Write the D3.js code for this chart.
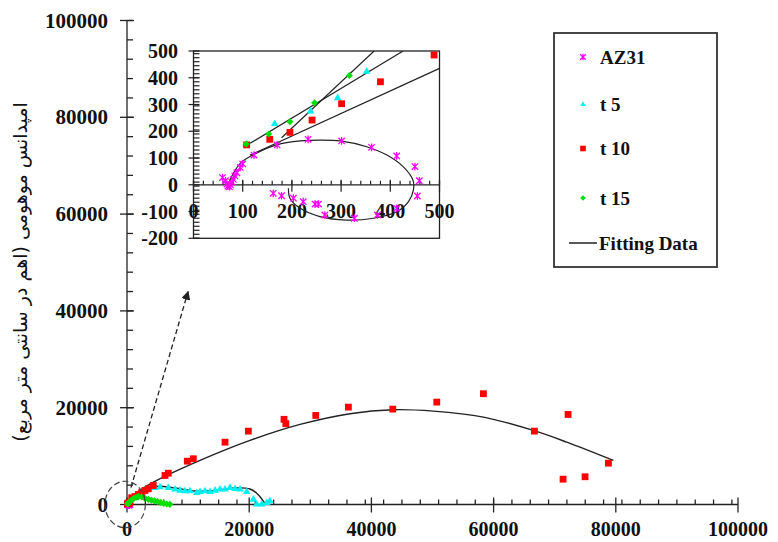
<!DOCTYPE html>
<html lang="en">
<head>
<meta charset="utf-8">
<script src="https://cdn.jsdelivr.net/npm/d3@7"></script>
<style>
body { margin: 0; background: #fff; }
text { font-family: "Liberation Serif", "Times New Roman", serif; font-weight: bold; fill: #111; }
</style>
</head>
<body>
<script>
// values, [Z' , -Z''] in ohm.cm2
const az31 = [[59,27],[65,15],[68,3],[70,-5],[73,-7],[75,0],[78,10],[81,20],[84,33],[88,45],[95,65],[100,78],
  [123,111],[170,149],[233,170],[301,164],[362,140],[413,108],[450,68],[459,15],[455,-42],[413,-88],
  [374,-113],[327,-125],[267,-113],[254,-72],[247,-72],[223,-63],[203,-50],[179,-41],[162,-32]];

const t5 = [[108,152],[165,230],[238,277],[293,327],[352,426],
  [4580,3580],[5400,3720],[6760,3580],[7860,3250],[8680,3030],[9490,2900],[10310,2900],[11410,2540],
  [11950,2750],[12770,2900],[13590,2750],[14410,3030],[15220,3250],[16040,3250],[16860,3580],[17680,3370],
  [18500,3250],[19590,2750],[20680,1180],[21230,150],[22050,150],[22870,480],[23400,830]];

const t10 = [[108,149],[155,170],[196,196],[241,242],[301,303],[380,385],[489,485],
  [770,1390],[1310,1650],[1850,2070],[2400,2480],[2950,2900],[3490,3250],[4300,3930],[6220,6000],[6760,6470],
  [9870,8950],[10850,9450],[16040,12880],[19860,15160],[25700,17600],[26000,16700],[30890,18400],[36230,20120],
  [43500,19710],[50700,21160],[58330,22890],[66680,15160],[72190,18610],[78790,8540],[71370,5230],[74970,5730]];

const t15 = [[107,152],[153,190],[196,236],[246,307],[317,408],
  [700,900],[1100,1250],[1500,1500],[1900,1650],[2400,1550],[2950,1250],[3500,1050],[4000,900],[4500,750],
  [5000,600],[5500,450],[6000,250],[6500,100],[7000,30]];

// fitted curves, main chart
const fitT10 = [[0,0],[1500,2300],[4260,4550],[11950,9100],[20130,13240],[28320,16540],[36500,18760],
  [43500,19580],[50140,19290],[58330,18050],[66510,15300],[71980,12880],[79610,9100]];
const fitT5 = [[0,0],[2130,2480],[4580,3720],[7860,3410],[11130,2790],[14410,2900],[17680,3410],
  [20130,3200],[21440,2070],[22590,200]];

// fitted curves, inset
const fitAz31 = [[71,6],[95,80],[128,118],[169,149],[217,164],[257,167],[298,164],[352,142],[393,111],
  [426,68],[446,18],[447,-19],[437,-63],[413,-101],[366,-125],[311,-132],[257,-119],[217,-88],[196,-50],[193,-13]];
const fitLines = [[[179,176],[367,500]], [[115,155],[426,500]], [[115,111],[500,435]]];

const mainTicks = [0, 20000, 40000, 60000, 80000, 100000];
const insetXTicks = [0, 100, 200, 300, 400, 500];
const insetYTicks = [-200, -100, 0, 100, 200, 300, 400, 500];
const legendItems = ["AZ31", "t 5", "t 10", "t 15"];
const yTitle = "امپدانس موهومی (اهم در سانتی متر مربع)";

const W = 778, H = 542;
const svg = d3.select("body").append("svg").attr("width", W).attr("height", H);

const x = d3.scaleLinear([0, 100000], [127, 738]);
const y = d3.scaleLinear([0, 100000], [504.5, 20.5]);
const ix = d3.scaleLinear([0, 500], [193.5, 439.5]);
const iy = d3.scaleLinear([-200, 500], [238.3, 51]);

const ink = "#222";

// marker drawing
function marker(g, type, px, py, s) {
  if (type === "ast") {
    g.append("path")
      .attr("d", `M${px-s},${py-s}L${px+s},${py+s}M${px-s},${py+s}L${px+s},${py-s}M${px},${py-s*1.2}L${px},${py+s*1.2}`)
      .attr("stroke", "#ff00ff").attr("stroke-width", 1.3).attr("fill", "none");
  } else if (type === "tri") {
    g.append("path").attr("d", `M${px},${py-s}L${px+s},${py+s*0.75}L${px-s},${py+s*0.75}Z`).attr("fill", "#00f0f0");
  } else if (type === "sq") {
    g.append("rect").attr("x", px-s).attr("y", py-s).attr("width", 2*s).attr("height", 2*s).attr("fill", "#ff0000");
  } else {
    g.append("path").attr("d", `M${px},${py-s}L${px+s},${py}L${px},${py+s}L${px-s},${py}Z`).attr("fill", "#00e000");
  }
}

// ---------- main axes
const ax = svg.append("g").attr("stroke", ink).attr("stroke-width", 1.3);
ax.append("line").attr("x1", x(0)).attr("x2", x(0)).attr("y1", y(100000)).attr("y2", y(0));
ax.append("line").attr("x1", x(0)).attr("x2", x(100000)).attr("y1", y(0)).attr("y2", y(0));
d3.range(0, 100001, 4000).forEach(v => {
  ax.append("line").attr("x1", x(0)).attr("x2", x(0) + 6).attr("y1", y(v)).attr("y2", y(v));
});
d3.range(0, 100001, 3000).forEach(v => {
  ax.append("line").attr("x1", x(v)).attr("x2", x(v)).attr("y1", y(0)).attr("y2", y(0) - 5);
});
mainTicks.forEach(v => {
  ax.append("line").attr("x1", x(0) - 7).attr("x2", x(0) + 7).attr("y1", y(v)).attr("y2", y(v));
  ax.append("line").attr("x1", x(v)).attr("x2", x(v)).attr("y1", y(0) - 7).attr("y2", y(0) + 8);
  svg.append("text").attr("x", 108).attr("y", y(v) + 7).attr("text-anchor", "end")
    .style("font-size", "21px").text(v);
  svg.append("text").attr("x", x(v)).attr("y", 536).attr("text-anchor", "middle")
    .style("font-size", "20px").text(v);
});

svg.append("text")
  .attr("transform", "translate(27,272) rotate(-90)")
  .attr("text-anchor", "middle").attr("direction", "rtl")
  .style("font-family", "'DejaVu Sans', sans-serif").style("font-weight", "normal").style("font-size", "19px")
  .text(yTitle);

// ---------- main series
const line = (sx, sy) => d3.line().x(d => sx(d[0])).y(d => sy(d[1])).curve(d3.curveCatmullRom);
[fitT10, fitT5].forEach(f => {
  svg.append("path").attr("d", line(x, y)(f)).attr("fill", "none").attr("stroke", ink).attr("stroke-width", 1.4);
});
const mainG = svg.append("g");
az31.forEach(d => marker(mainG, "ast", x(d[0]), y(d[1]), 3));
t5.forEach(d => marker(mainG, "tri", x(d[0]), y(d[1]), 3.8));
t10.forEach(d => marker(mainG, "sq", x(d[0]), y(d[1]), 3.4));
t15.forEach(d => marker(mainG, "dia", x(d[0]), y(d[1]), 3.6));

// zoom marks: dashed ring round the origin and arrow to the inset
svg.append("defs").append("marker").attr("id", "head").attr("viewBox", "0 0 10 10")
  .attr("refX", 9).attr("refY", 5).attr("markerWidth", 7).attr("markerHeight", 7).attr("orient", "auto")
  .append("path").attr("d", "M0,0L10,5L0,10Z").attr("fill", ink);
svg.append("ellipse").attr("cx", x(-300)).attr("cy", y(0)).attr("rx", x(3300) - x(0)).attr("ry", y(0) - y(4800))
  .attr("fill", "none").attr("stroke", "#444").attr("stroke-width", 1.2).attr("stroke-dasharray", "6,3");
svg.append("line").attr("x1", x(650)).attr("y1", y(3500)).attr("x2", x(10000)).attr("y2", y(44000))
  .attr("stroke", ink).attr("stroke-width", 1.3).attr("stroke-dasharray", "5,3").attr("marker-end", "url(#head)");

// ---------- inset
const ins = svg.append("g");
ins.append("rect").attr("x", ix(0)).attr("y", iy(500)).attr("width", ix(500) - ix(0)).attr("height", iy(-200) - iy(500))
  .attr("fill", "#fff").attr("stroke", ink).attr("stroke-width", 1.3);
svg.append("clipPath").attr("id", "inclip").append("rect")
  .attr("x", ix(0)).attr("y", iy(500)).attr("width", ix(500) - ix(0)).attr("height", iy(-200) - iy(500));
const it = ins.append("g").attr("stroke", ink).attr("stroke-width", 1.2);
it.append("line").attr("x1", ix(0)).attr("x2", ix(500)).attr("y1", iy(0)).attr("y2", iy(0));
d3.range(-200, 501, 15).forEach(v => {
  it.append("line").attr("x1", ix(0)).attr("x2", ix(0) + 6).attr("y1", iy(v)).attr("y2", iy(v));
});
d3.range(0, 501, 20).forEach(v => {
  it.append("line").attr("x1", ix(v)).attr("x2", ix(v)).attr("y1", iy(0)).attr("y2", iy(0) - 4);
});
insetYTicks.forEach(v => {
  it.append("line").attr("x1", ix(0) - 5).attr("x2", ix(0) + 6).attr("y1", iy(v)).attr("y2", iy(v));
  ins.append("text").attr("x", 178).attr("y", iy(v) + 7).attr("text-anchor", "end").style("font-size", "20px").text(v);
});
insetXTicks.forEach(v => {
  it.append("line").attr("x1", ix(v)).attr("x2", ix(v)).attr("y1", iy(0) - 5).attr("y2", iy(0) + 7);
  ins.append("text").attr("x", ix(v)).attr("y", 218).attr("text-anchor", "middle").style("font-size", "20px").text(v);
});
const inPlot = ins.append("g").attr("clip-path", "url(#inclip)");
inPlot.append("path").attr("d", line(ix, iy)(fitAz31)).attr("fill", "none").attr("stroke", ink).attr("stroke-width", 1.2);
fitLines.forEach(f => {
  inPlot.append("path").attr("d", d3.line().x(d => ix(d[0])).y(d => iy(d[1]))(f))
    .attr("fill", "none").attr("stroke", ink).attr("stroke-width", 1.2);
});
const inside = d => d[0] <= 500 && d[1] <= 500 && d[1] >= -200;
az31.filter(inside).forEach(d => marker(inPlot, "ast", ix(d[0]), iy(d[1]), 3.2));
t5.filter(inside).forEach(d => marker(inPlot, "tri", ix(d[0]), iy(d[1]), 3.8));
t10.filter(inside).forEach(d => marker(inPlot, "sq", ix(d[0]), iy(d[1]), 3.4));
t15.filter(inside).forEach(d => marker(inPlot, "dia", ix(d[0]), iy(d[1]), 3.5));

// ---------- legend
const lg = svg.append("g");
lg.append("rect").attr("x", 554).attr("y", 33).attr("width", 163).attr("height", 234)
  .attr("fill", "#fff").attr("stroke", "#333").attr("stroke-width", 1.8);
const legendY = [57, 104, 148.5, 198];
const legendType = ["ast", "tri", "sq", "dia"];
legendItems.forEach((name, i) => {
  marker(lg, legendType[i], 583, legendY[i], 2.8);
  lg.append("text").attr("x", 600).attr("y", legendY[i] + 6.5).style("font-size", "19px").text(name);
});
lg.append("line").attr("x1", 569).attr("x2", 597).attr("y1", 243).attr("y2", 243).attr("stroke", ink).attr("stroke-width", 1.5);
lg.append("text").attr("x", 599).attr("y", 249.5).style("font-size", "19px").text("Fitting Data");
</script>
</body>
</html>
